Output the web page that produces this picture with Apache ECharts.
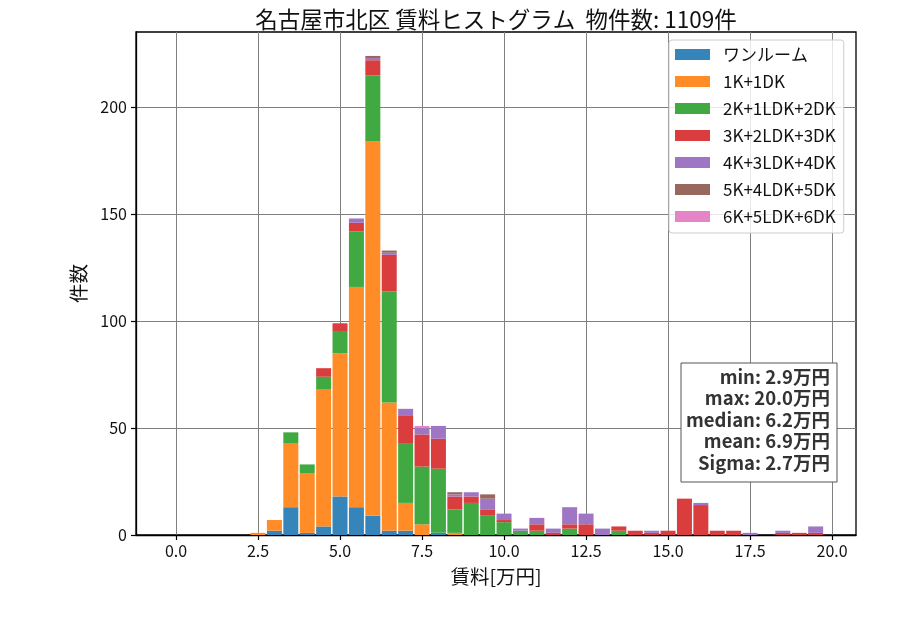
<!DOCTYPE html>
<html>
<head>
<meta charset="utf-8">
<script src="https://cdn.jsdelivr.net/npm/echarts@6/dist/echarts.min.js"></script>
<style>
  html, body { margin: 0; padding: 0; background: #fff; }
  #chart { width: 900px; height: 630px; }
</style>
</head>
<body>
<div id="chart"></div>
<script>
// ビンの中心 (0.5万円刻み)
const binCenters = [0.0, 0.5, 1.0, 1.5, 2.0, 2.5, 3.0, 3.5, 4.0, 4.5,
    5.0, 5.5, 6.0, 6.5, 7.0, 7.5, 8.0, 8.5, 9.0, 9.5,
    10.0, 10.5, 11.0, 11.5, 12.0, 12.5, 13.0, 13.5, 14.0, 14.5,
    15.0, 15.5, 16.0, 16.5, 17.0, 17.5, 18.0, 18.5, 19.0, 19.5];

const seriesNames = ['ワンルーム', '1K+1DK', '2K+1LDK+2DK', '3K+2LDK+3DK', '4K+3LDK+4DK', '5K+4LDK+5DK', '6K+5LDK+6DK'];

// 間取りごとの件数
const oneRoom = [0, 0, 0, 0, 0, 0, 2, 13, 1, 4, 18, 13, 9, 2, 2, 0, 1, 0, 0, 0,
    0, 0, 0, 0, 0, 0, 0, 0, 0, 0, 0, 0, 0, 0, 0, 0, 0, 0, 0, 0];
const k1 = [0, 0, 0, 0, 0, 1, 5, 30, 28, 64, 67, 103, 175, 60, 13, 5, 0, 1, 0, 0,
    0, 0, 0, 0, 0, 0, 0, 0, 0, 0, 0, 0, 0, 0, 0, 0, 0, 0, 0, 0];
const k2 = [0, 0, 0, 0, 0, 0, 0, 5, 4, 6, 10, 26, 31, 52, 28, 27, 30, 11, 15, 9,
    6, 2, 2, 0, 3, 0, 0, 2, 0, 0, 0, 0, 0, 0, 0, 0, 0, 0, 0, 0];
const k3 = [0, 0, 0, 0, 0, 0, 0, 0, 0, 4, 4, 4, 7, 17, 13, 15, 14, 6, 3, 3,
    1, 0, 3, 1, 2, 5, 0, 2, 2, 1, 2, 17, 14, 2, 2, 0, 0, 1, 1, 1];
const k4 = [0, 0, 0, 0, 0, 0, 0, 0, 0, 0, 0, 2, 1, 1, 3, 3, 6, 1, 2, 5,
    3, 1, 3, 2, 8, 5, 3, 0, 0, 1, 0, 0, 1, 0, 0, 1, 0, 1, 0, 3];
const k5 = [0, 0, 0, 0, 0, 0, 0, 0, 0, 0, 0, 0, 1, 1, 0, 0, 0, 1, 0, 2,
    0, 0, 0, 0, 0, 0, 0, 0, 0, 0, 0, 0, 0, 0, 0, 0, 0, 0, 0, 0];
const k6 = [0, 0, 0, 0, 0, 0, 0, 0, 0, 0, 0, 0, 0, 0, 0, 1, 0, 0, 0, 0,
    0, 0, 0, 0, 0, 0, 0, 0, 0, 0, 0, 0, 0, 0, 0, 0, 0, 0, 0, 0];

const xTicks = [0, 2.5, 5, 7.5, 10, 12.5, 15, 17.5, 20];
const yTicks = [0, 50, 100, 150, 200];

const statsLines = ['min: 2.9万円', 'max: 20.0万円', 'median: 6.2万円', 'mean: 6.9万円', 'Sigma: 2.7万円'];

const colors = ['#3585bb', '#ff8c26', '#41a941', '#da3d3e', '#9f76c4', '#98675d', '#e585c8'];
const FONT = '"Noto Sans CJK JP", "Noto Sans", sans-serif';

const chart = echarts.init(document.getElementById('chart'));

// 件数を先頭の次元に置いて、件数方向に積み上げる
const allCounts = [oneRoom, k1, k2, k3, k4, k5, k6];
const series = seriesNames.map((name, i) => ({
    name: name,
    type: 'bar',
    stack: 'total',
    barWidth: 15,
    data: binCenters.map((c, j) => [allCounts[i][j], c]),
    encode: { x: 1, y: 0 },
    itemStyle: { color: colors[i] },
    emphasis: { disabled: true }
}));

const option = {
    animation: false,
    textStyle: { fontFamily: FONT },
    title: {
        text: '名古屋市北区 賃料ヒストグラム  物件数: 1109件',
        left: 491,
        textAlign: 'center',
        top: 3,
        textStyle: { fontFamily: FONT, fontSize: 22.5, fontWeight: 'normal', color: '#111' }
    },
    grid: {
        left: 136, right: 44, top: 32, bottom: 95,
        show: true,
        borderColor: '#000',
        borderWidth: 1.3,
        backgroundColor: 'transparent'
    },
    legend: {
        orient: 'vertical',
        left: 669,
        top: 40,
        padding: [6, 8, 8, 6],
        itemWidth: 35,
        itemHeight: 11,
        itemGap: 10,
        backgroundColor: 'rgba(255,255,255,0.8)',
        borderColor: '#ccc',
        borderWidth: 1,
        borderRadius: 3,
        icon: 'rect',
        data: seriesNames,
        textStyle: { fontFamily: FONT, fontSize: 17, color: '#111', lineHeight: 17, padding: [0, 0, 0, 8] }
    },
    xAxis: {
        type: 'value',
        min: -1.22,
        max: 20.73,
        name: '賃料[万円]',
        nameLocation: 'middle',
        nameGap: 32,
        nameTextStyle: { fontFamily: FONT, fontSize: 19.5, color: '#111' },
        axisLine: { show: true, onZero: false, lineStyle: { color: '#000', width: 1.3 } },
        axisTick: { show: true, length: 5, customValues: xTicks, lineStyle: { color: '#000', width: 1.2 } },
        axisLabel: {
            customValues: xTicks,
            formatter: v => v.toFixed(1),
            fontFamily: FONT, fontSize: 16, color: '#111', margin: 8
        },
        splitLine: { show: true, lineStyle: { color: '#808080', width: 1 } }
    },
    yAxis: {
        type: 'value',
        min: 0,
        max: 235.2,
        name: '件数',
        nameLocation: 'middle',
        nameGap: 48,
        nameTextStyle: { fontFamily: FONT, fontSize: 19.5, color: '#111' },
        axisLine: { show: true, onZero: false, lineStyle: { color: '#000', width: 1.3 } },
        axisTick: { show: true, length: 5, customValues: yTicks, lineStyle: { color: '#000', width: 1.2 } },
        axisLabel: {
            customValues: yTicks,
            fontFamily: FONT, fontSize: 16, color: '#111', margin: 9
        },
        splitLine: { show: true, lineStyle: { color: '#808080', width: 1 } }
    },
    graphic: [
        {
            type: 'rect',
            shape: { x: 681, y: 363, width: 156, height: 119 },
            style: { fill: '#fff', stroke: '#555', lineWidth: 1 },
            z: 100
        },
        {
            type: 'text',
            x: 830,
            y: 366,
            z: 101,
            style: {
                text: statsLines.join('\n'),
                align: 'right',
                verticalAlign: 'top',
                font: 'bold 18.5px ' + FONT,
                lineHeight: 21.5,
                fill: '#333'
            }
        }
    ],
    series: series
};

chart.setOption(option);
</script>
</body>
</html>
